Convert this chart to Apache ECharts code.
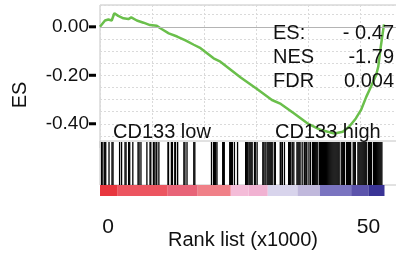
<!DOCTYPE html>
<html>
<head>
<meta charset="utf-8">
<script src="https://cdn.jsdelivr.net/npm/echarts@6/dist/echarts.min.js"></script>
<style>
  html, body { margin: 0; padding: 0; background: #fff; }
  #main { width: 396px; height: 255px; }
</style>
</head>
<body>
<div id="main"></div>
<script>
// running enrichment score, rank in thousands
var esRank = [0, 0.96, 1.6, 2.25, 2.75, 3.5, 4.5, 5.45, 6.0, 7.07, 8.35, 9.6, 10.9, 11.9, 13.2, 14.8, 16.4, 18.0,
  19.3, 21.8, 23.1, 27.0, 30.2, 33.0, 34.7, 37.2, 39.8, 42.4, 45.0, 46.6, 47.8, 49.1, 50.1, 51.1, 52.0, 53.0, 53.4, 53.9, 54.5];
var esValue = [0, 0.026, 0.03, 0.026, 0.056, 0.045, 0.035, 0.032, 0.039, 0.026, 0.017, 0.007, 0.004, -0.01, -0.027, -0.04, -0.056, -0.074,
  -0.088, -0.13, -0.144, -0.209, -0.258, -0.302, -0.318, -0.357, -0.398, -0.426, -0.44, -0.433, -0.412, -0.378, -0.343, -0.289, -0.247, -0.199, -0.165, -0.08, 0.01];

// gene set hits (rank, thousands)
var hitRanks = [0.3, 0.55, 0.9, 1.1, 1.73, 2.3, 2.5, 3.76, 4.14, 4.8, 5.0, 5.5, 5.7, 6.3, 7.3, 7.5, 7.86, 9.0, 9.6, 9.75,
  10.25, 10.4, 10.75, 10.9, 11.3, 13.05, 13.15, 13.7, 13.9, 14.35, 14.5, 14.9, 16.1, 16.3, 16.7, 18.0, 18.2,
  21.4, 21.8, 22.0, 22.2, 22.45, 23.55, 23.7, 23.85, 24.9, 25.05, 25.25, 25.4, 25.8, 26.4, 27.95, 28.15, 28.35, 28.6,
  28.8, 29.0, 29.2, 29.65, 29.8, 30.15, 31.25, 31.45, 31.7, 32.05, 32.25, 32.45, 32.65, 32.85, 33.05, 33.45, 33.65,
  34.6, 34.75, 35.0, 35.4, 36.2, 36.4, 36.6, 36.9, 37.2,
  37.8, 38.0, 38.2, 38.4, 38.8, 39.2, 39.35, 39.55, 39.7, 40.1, 40.4, 40.8, 41.0, 41.2, 41.4, 41.6, 41.8, 42.15,
  42.3, 42.5, 42.7, 42.9, 43.1, 43.3, 43.5, 43.7, 43.9, 44.1, 44.3, 44.5, 44.7, 44.9, 45.1, 45.3, 45.5, 45.7, 45.9,
  46.3, 46.5, 46.7, 46.9, 47.3, 47.5, 47.7, 47.9, 48.1, 48.6, 48.8, 49.0, 49.5, 49.7, 49.9, 50.1, 50.3, 50.5, 50.7,
  50.9, 51.1, 51.5, 51.7, 51.9, 52.1, 52.5, 52.7, 52.9, 53.1, 53.3, 53.5, 53.7, 53.9, 54.1];

// ranked list metric colour strip
var stripBreaks = [0, 3.4, 13.0, 18.75, 25.1, 28.5, 32.2, 37.9, 42.2, 48.2, 51.5, 54.6];
var stripColors = ['#e8363e', '#ec5560', '#e86478', '#f08088', '#f4bcd8', '#f1b2d2', '#d8d4ec', '#c0b8dc', '#7a74c0', '#5c54ac', '#3a3496'];

var yTickValues = [0, -0.2, -0.4];
var xTickValues = [0, 50];

var font = "'Liberation Sans', Arial, sans-serif";
var esData = esRank.map(function (r, i) { return [r, esValue[i]]; });
var stripData = stripColors.map(function (c, i) { return [stripBreaks[i], stripBreaks[i + 1], i]; });

var chart = echarts.init(document.getElementById('main'));

function txt(x, y, s, align, size, rot) {
  return {
    type: 'text', x: x, y: y, z: 100, rotation: rot || 0,
    style: { text: s, fill: '#111', font: size + 'px ' + font, textAlign: align, textVerticalAlign: 'middle' }
  };
}

chart.setOption({
  animation: false,
  grid: [
    { left: 100, top: 5, width: 297, height: 143, outerBoundsMode: 'none', show: true, borderColor: '#c4c4c4', borderWidth: 1 },
    { left: 100, top: 141, width: 297, height: 44, outerBoundsMode: 'none', show: true, backgroundColor: '#fff', borderColor: '#c4c4c4', borderWidth: 1, z: 5 },
    { left: 100, top: 185, width: 297, height: 11, outerBoundsMode: 'none' }
  ],
  xAxis: [
    {
      gridIndex: 0, type: 'value', min: 0, max: 57, interval: 10,
      axisLine: { show: false }, axisTick: { show: false }, axisLabel: { show: false },
      splitLine: { lineStyle: { color: '#dadada', type: [2, 2] } }
    },
    { gridIndex: 1, type: 'value', min: 0, max: 57, show: false },
    {
      gridIndex: 2, type: 'value', min: 0, max: 57,
      axisLine: { show: false }, axisTick: { show: false }, splitLine: { show: false },
      axisLabel: {
        customValues: xTickValues, margin: 21, fontSize: 21, fontFamily: font, color: '#111',
        padding: [0, 0, 0, 16]
      },
      name: 'Rank list (x1000)', nameLocation: 'middle', nameGap: 34, nameMoveOverlap: false,
      nameTextStyle: { fontSize: 20, fontFamily: font, color: '#111', padding: [0, 11, 0, 0] }
    }
  ],
  yAxis: [
    {
      gridIndex: 0, type: 'value', min: -0.5, max: 0.09, interval: 0.05,
      axisLine: { show: false }, axisTick: { show: false },
      splitLine: { lineStyle: { color: '#dadada', type: [2, 2] } },
      axisLabel: {
        customValues: yTickValues, margin: 4,
        formatter: function (v) { return '{v|' + v.toFixed(2) + '}{d| }'; },
        rich: {
          v: { fontSize: 19, fontFamily: font, color: '#111' },
          d: { width: 7, height: 3, backgroundColor: '#000', fontSize: 2 }
        }
      }
    },
    { gridIndex: 1, type: 'value', min: 0, max: 1, show: false },
    { gridIndex: 2, type: 'value', min: 0, max: 1, show: false }
  ],
  graphic: [
    txt(20, 95, 'ES', 'center', 20, Math.PI / 2),
    txt(273, 33, 'ES:', 'left', 20),
    txt(273, 57, 'NES', 'left', 20),
    txt(273, 81, 'FDR', 'left', 20),
    txt(394, 33, '- 0.47', 'right', 20),
    txt(394, 57, '-1.79', 'right', 20),
    txt(394, 81, '0.004', 'right', 20),
    txt(113, 132, 'CD133 low', 'left', 20),
    txt(275, 132, 'CD133 high', 'left', 20)
  ],
  series: [
    {
      type: 'line', xAxisIndex: 0, yAxisIndex: 0, data: esData, showSymbol: false, z: 3,
      lineStyle: { color: '#6abf4b', width: 2.5 },
      markLine: {
        silent: true, symbol: 'none', label: { show: false },
        lineStyle: { color: '#b4b4b4', type: 'solid', width: 1 },
        data: [{ yAxis: 0 }]
      }
    },
    {
      type: 'custom', xAxisIndex: 1, yAxisIndex: 1, z: 7,
      data: hitRanks.map(function (r) { return [r, 1]; }),
      encode: { x: 0, y: 1 },
      renderItem: function (params, api) {
        var top = api.coord([api.value(0), 1]);
        var bottom = api.coord([api.value(0), 0]);
        return { type: 'rect', shape: { x: top[0] - 0.65, y: top[1] + 1, width: 1.3, height: bottom[1] - top[1] - 1 }, style: { fill: '#000' } };
      }
    },
    {
      type: 'custom', xAxisIndex: 2, yAxisIndex: 2, z: 7,
      data: stripData,
      encode: { x: [0, 1] },
      renderItem: function (params, api) {
        var a = api.coord([api.value(0), 1]);
        var b = api.coord([api.value(1), 0]);
        return { type: 'rect', shape: { x: a[0], y: a[1], width: b[0] - a[0], height: b[1] - a[1] }, style: { fill: stripColors[api.value(2)] } };
      }
    }
  ]
});
</script>
</body>
</html>
